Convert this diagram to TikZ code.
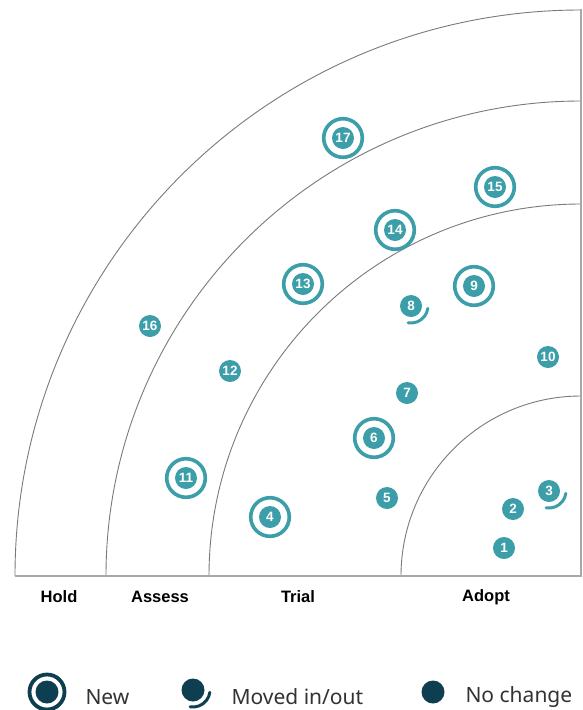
\documentclass[tikz,border=0pt]{standalone}
\usepackage{fontspec}
\setmainfont{Liberation Sans}
\newfontfamily\legfont{Noto Sans}
\definecolor{blipteal}{HTML}{3B9EA8}
\definecolor{legdark}{HTML}{0D3F50}
\definecolor{arcgray}{HTML}{7A7A7A}
\definecolor{framegray}{HTML}{A8A8A8}
\definecolor{textgray}{HTML}{333333}
\tikzset{
  blip/.style={circle, fill=blipteal, minimum size=22, inner sep=0pt, text=white, font=\fontsize{13.5}{13.5}\selectfont\bfseries},
  newring/.style={draw=blipteal, line width=3.6},
  movearc/.style={draw=blipteal, line width=3, line cap=round},
  ringlabel/.style={font=\fontsize{16.5}{16.5}\selectfont\bfseries, text=black},
  legtext/.style={font=\legfont\fontsize{21}{21}\selectfont, text=textgray, anchor=west},
}
\newcommand\blipnew[3]{\node[blip] (b#1) at (#2,#3) {#1};\draw[newring] (b#1.center) circle[radius=19.3];}
\newcommand\blipmove[3]{\node[blip] (b#1) at (#2,#3) {#1};\draw[movearc] (b#1.center) ++(8:17) arc[start angle=8, end angle=100, radius=17];}
\newcommand\blipsame[3]{\node[blip] (b#1) at (#2,#3) {#1};}
\begin{document}
\begin{tikzpicture}[x=1pt,y=-1pt]
\useasboundingbox[fill=white] (0,0) rectangle (582,710);
% rings
\foreach \r in {566,475,372,180}{
  \draw[arcgray, line width=0.9] (581-\r,576) arc[start angle=180, end angle=270, radius=\r];
}
\draw[framegray, line width=1.3] (15,576) -- (581,576) -- (581,9);
% ring labels
\node[ringlabel] (lhold) at (59,597) {Hold};
\node[ringlabel] (lassess) at (160,597) {Assess};
\node[ringlabel] (ltrial) at (298,597) {Trial};
\node[ringlabel] (ladopt) at (486,597) {Adopt};
% blips
\blipsame{1}{504}{548}
\blipsame{2}{513}{509}
\blipmove{3}{549}{491}
\blipnew{4}{270}{517}
\blipsame{5}{387}{498}
\blipnew{6}{374}{438}
\blipsame{7}{407}{393}
\blipmove{8}{411}{306}
\blipnew{9}{474}{286}
\blipsame{10}{548}{357}
\blipnew{11}{186}{478}
\blipsame{12}{230}{371}
\blipnew{13}{303}{284}
\blipnew{14}{395}{230}
\blipnew{15}{495}{187}
\blipsame{16}{150}{326}
\blipnew{17}{343}{138}
% legend
\node[circle, fill=legdark, minimum size=23, inner sep=0pt] (lgnew) at (47,692) {};
\draw[legdark, line width=3.8] (lgnew.center) circle[radius=17.5];
\node[legtext] (tnew) at (82,697) {New};
\node[circle, fill=legdark, minimum size=23, inner sep=0pt] (lgmove) at (193,690) {};
\draw[legdark, line width=3, line cap=round] (lgmove.center) ++(8:17) arc[start angle=8, end angle=100, radius=17];
\node[legtext] (tmove) at (228,697) {Moved in/out};
\node[circle, fill=legdark, minimum size=23, inner sep=0pt] (lgsame) at (433,692) {};
\node[legtext] (tsame) at (462,697) {No change};
\end{tikzpicture}
\end{document}
